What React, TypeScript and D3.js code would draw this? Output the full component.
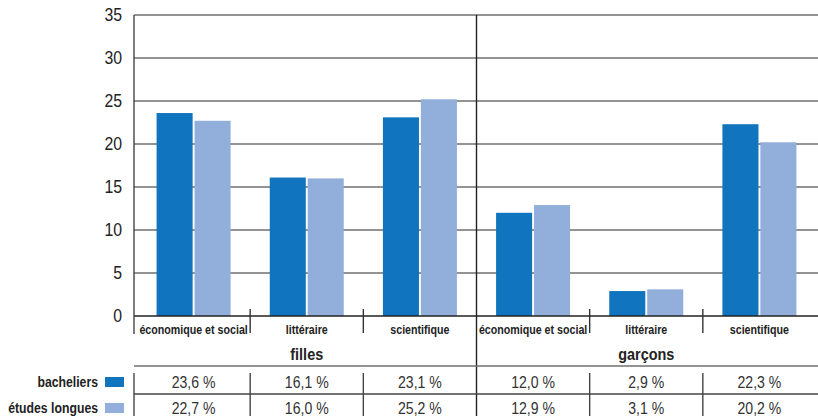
import React from "react";
import * as d3 from "d3";

// Categories (bac series) grouped by sex
const categories = [
  "économique et social",
  "littéraire",
  "scientifique",
  "économique et social",
  "littéraire",
  "scientifique",
];
const groups = ["filles", "garçons"];
const seriesNames = ["bacheliers", "études longues"];
const bacheliers = [23.6, 16.1, 23.1, 12.0, 2.9, 22.3];
const etudesLongues = [22.7, 16.0, 25.2, 12.9, 3.1, 20.2];
const yTicks = [0, 5, 10, 15, 20, 25, 30, 35];
const colors = ["#1174be", "#92aeda"];

const W = 818;
const H = 416;
const FONT = "'Liberation Sans', Arial, sans-serif";

const fmt = (v: number) => v.toFixed(1).replace(".", ",") + " %";

// Horizontally condensed text
function CText(props: {
  x: number;
  y: number;
  sx: number;
  size: number;
  anchor?: string;
  weight?: string;
  fill?: string;
  dy?: string;
  children: React.ReactNode;
}) {
  const { x, y, sx, size, anchor = "middle", weight = "normal", fill = "#222", dy } = props;
  return (
    <text
      transform={`translate(${x},${y}) scale(${sx},1)`}
      textAnchor={anchor}
      fontSize={size}
      fontWeight={weight}
      fill={fill}
      dy={dy}
    >
      {props.children}
    </text>
  );
}

export default function App() {
  const axisX = 134;
  const rightX = 818;
  const y = d3.scaleLinear().domain([0, 35]).range([316, 15]);
  const idx = categories.map((_, i) => i);
  const x0 = d3.scaleBand<number>().domain(idx).range([137, 816]).padding(0);
  const step = x0.step();
  const x1 = d3
    .scaleBand<number>()
    .domain([0, 1])
    .range([step / 2 - 37, step / 2 + 37])
    .paddingInner(0.05);
  const series = [bacheliers, etudesLongues];

  const boundaries = idx.slice(1).map((i) => x0(i)!);
  const tableTop = 366;
  const rowSep = 394;

  return (
    <svg
      width={W}
      height={H}
      style={{ position: "absolute", left: 0, top: 0, background: "#fff" }}
      fontFamily={FONT}
    >
      {/* gridlines */}
      {yTicks.slice(1).map((t) => (
        <line
          key={"g" + t}
          x1={axisX}
          x2={rightX}
          y1={y(t)}
          y2={y(t)}
          stroke="#6f6f6f"
          strokeWidth={1.4}
        />
      ))}
      {/* y tick labels */}
      {yTicks.map((t) => (
        <CText key={"t" + t} x={122} y={y(t)} dy="0.36em" sx={0.88} size={18} anchor="end">
          {t}
        </CText>
      ))}
      {/* bars */}
      {idx.map((i) => (
        <g key={"b" + i} transform={`translate(${x0(i)},0)`}>
          {series.map((s, k) => (
            <rect
              key={k}
              x={x1(k)}
              y={y(s[i])}
              width={x1.bandwidth()}
              height={y(0) - y(s[i])}
              fill={colors[k]}
            />
          ))}
        </g>
      ))}
      {/* axes */}
      <line x1={axisX} x2={rightX} y1={y(0)} y2={y(0)} stroke="#222" strokeWidth={1.4} />
      <line x1={axisX} x2={axisX} y1={y(35)} y2={334} stroke="#444" strokeWidth={1.4} />
      {boundaries.map((bx, j) =>
        j === 2 ? (
          <line key={"d" + j} x1={bx} x2={bx} y1={y(35)} y2={H} stroke="#222" strokeWidth={1.4} />
        ) : (
          <line key={"d" + j} x1={bx} x2={bx} y1={309} y2={333} stroke="#333" strokeWidth={1.4} />
        )
      )}
      {/* category labels */}
      {categories.map((c, i) => (
        <CText key={"c" + i} x={x0(i)! + step / 2} y={334} sx={0.79} size={13.5} weight="bold">
          {c}
        </CText>
      ))}
      {/* group labels */}
      {groups.map((g, gi) => (
        <CText
          key={"grp" + g}
          x={x0(gi * 3 + 1)! + step / 2}
          y={360}
          sx={0.85}
          size={17}
          weight="bold"
        >
          {g}
        </CText>
      ))}
      {/* data table */}
      <line x1={axisX} x2={rightX} y1={tableTop} y2={tableTop} stroke="#6f6f6f" strokeWidth={1.4} />
      <line x1={axisX} x2={rightX} y1={rowSep} y2={rowSep} stroke="#444" strokeWidth={1.4} />
      <line x1={axisX} x2={axisX} y1={373} y2={H} stroke="#444" strokeWidth={1.4} />
      {boundaries.map((bx, j) =>
        j === 2 ? null : (
          <line key={"tv" + j} x1={bx} x2={bx} y1={373} y2={H} stroke="#444" strokeWidth={1.4} />
        )
      )}
      {series.map((s, k) => (
        <g key={"row" + k}>
          <rect x={105} y={k === 0 ? 377 : 403} width={19} height={10} fill={colors[k]} />
          <CText x={98} y={k === 0 ? 387 : 413} sx={0.875} size={14} anchor="end" weight="bold">
            {seriesNames[k]}
          </CText>
          {s.map((v, i) => (
            <CText
              key={i}
              x={x0(i)! + step / 2}
              y={k === 0 ? 388 : 414}
              sx={0.88}
              size={16}
              fill="#333"
            >
              {fmt(v)}
            </CText>
          ))}
        </g>
      ))}
    </svg>
  );
}
